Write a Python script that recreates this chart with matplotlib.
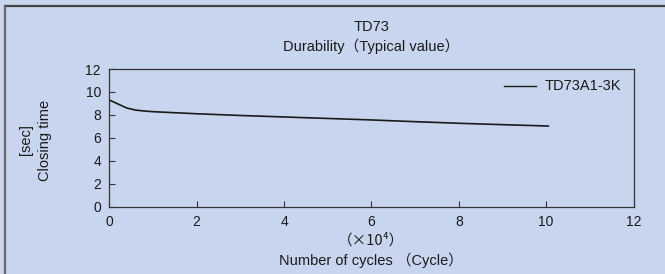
import matplotlib
matplotlib.use("Agg")
import matplotlib.pyplot as plt
from matplotlib.lines import Line2D

cycles = [0, 0.2, 0.4, 0.6, 0.8, 1, 2, 3, 4, 5, 6, 7, 8, 9, 10.05]
closing_time = [9.3, 8.95, 8.6, 8.42, 8.34, 8.28, 8.1, 7.95, 7.82, 7.69, 7.56, 7.41, 7.27, 7.15, 7.03]
series_name = "TD73A1-3K"
x_ticks = [0, 2, 4, 6, 8, 10, 12]
y_ticks = [0, 2, 4, 6, 8, 10, 12]

BG = "#c7d6ee"
FONT = ["Liberation Sans", "Noto Sans CJK JP", "DejaVu Sans"]
plt.rcParams["font.family"] = FONT

W, H = 665, 274
fig = plt.figure(figsize=(W / 100, H / 100), dpi=100)
fig.patch.set_facecolor(BG)

def fx(px):
    return px / W

def fy(py):
    return 1 - py / H

FS = 10.5
left, right, top, bottom = 109.3, 633.5, 69.0, 206.7
ax = fig.add_axes([fx(left), fy(bottom), fx(right) - fx(left), fy(top) - fy(bottom)])
ax.set_facecolor(BG)
ax.plot(cycles, closing_time, color="#1a1a1a", lw=1.2)
ax.set_xlim(0, 12)
ax.set_ylim(0, 12)
ax.set_xticks(x_ticks)
ax.set_yticks(y_ticks)
ax.tick_params(direction="in", length=4, width=0.8, color="#333333",
               labelsize=10, labelcolor="#1a1a1a", pad=6)
for s in ax.spines.values():
    s.set_color("#333333")
    s.set_linewidth(0.9)

# legend
fig.add_artist(Line2D([fx(504), fx(536)], [fy(85.7), fy(85.7)], color="#1a1a1a", lw=1.0))
fig.text(fx(545), fy(85.7), series_name, fontsize=FS, va="center", ha="left", color="#1a1a1a")

# titles
cx = (left + right) / 2
fig.text(fx(cx), fy(27), "TD73", fontsize=FS, ha="center", va="center", color="#1a1a1a")
fig.text(fx(cx), fy(46.5), "Durability（Typical value）", fontsize=FS, ha="center", va="center", color="#1a1a1a")

# axis labels
fig.text(fx(cx), fy(240), "（×10⁴）", fontsize=FS, ha="center", va="center", color="#1a1a1a",
         family=["Noto Sans CJK JP", "DejaVu Sans"])
fig.text(fx(cx), fy(260), "Number of cycles （Cycle）", fontsize=FS, ha="center", va="center", color="#1a1a1a")
fig.text(fx(26), fy(140), "[sec]", fontsize=FS, ha="center", va="center", rotation=90, color="#1a1a1a")
fig.text(fx(45), fy(140), "Closing time", fontsize=FS, ha="center", va="center", rotation=90, color="#1a1a1a")

# border (top and left)
fig.add_artist(Line2D([fx(5.5), 1], [fy(5.5), fy(5.5)], color="#444444", lw=1.6))
fig.add_artist(Line2D([fx(5.5), fx(5.5)], [fy(5.5), 0], color="#666666", lw=1.6))

fig.savefig("out.png", dpi=100, facecolor=BG)
